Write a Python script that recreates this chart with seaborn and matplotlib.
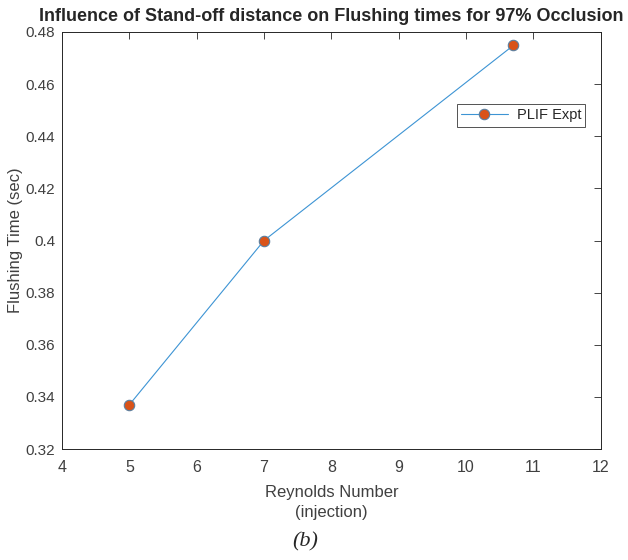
import matplotlib
matplotlib.use('Agg')
import matplotlib.pyplot as plt
import seaborn as sns
import pandas as pd

# Dados
reynolds = [5, 7, 10.7]
flushing = [0.337, 0.400, 0.4748]
xticks = [4, 5, 6, 7, 8, 9, 10, 11, 12]
yticks = [0.32, 0.34, 0.36, 0.38, 0.40, 0.42, 0.44, 0.46, 0.48]
ytick_labels = ['0.32', '0.34', '0.36', '0.38', '0.4', '0.42', '0.44', '0.46', '0.48']

df = pd.DataFrame({'Reynolds': reynolds, 'Flushing': flushing})

sns.set_style('white')
plt.rcParams['font.family'] = ['Liberation Sans', 'DejaVu Sans']

fig = plt.figure(figsize=(6.28, 5.6), dpi=100)
ax = fig.add_axes([0.0987, 0.198, 0.858, 0.745])

# Linha com marcadores (estilo MATLAB)
sns.lineplot(data=df, x='Reynolds', y='Flushing', ax=ax, color='#3d94d4',
             linewidth=0.8, marker='o', markersize=7.5, markerfacecolor='#D95319',
             markeredgecolor='#5a7fa0', markeredgewidth=0.8, label='PLIF Expt')

ax.set_xlim(4, 12)
ax.set_ylim(0.32, 0.48)
ax.set_xticks(xticks)
ax.set_yticks(yticks)
ax.set_yticklabels(ytick_labels)
ax.tick_params(direction='in', length=5, width=0.6, colors='#262626',
               labelcolor='#404040', labelsize=11, top=True, right=True, pad=5)
ax.tick_params(axis='x', pad=8, labelsize=11.5)
for s in ax.spines.values():
    s.set_color('#262626')
    s.set_linewidth(0.7)

ax.set_xlabel('Reynolds Number\n(injection)', fontsize=12, color='#404040',
              labelpad=7, linespacing=1.45)
ax.set_ylabel('Flushing Time (sec)', fontsize=12, color='#404040', labelpad=2)
ax.set_title('Influence of Stand-off distance on Flushing times for 97% Occlusion',
             fontsize=13, fontweight='bold', pad=8)

leg = ax.legend(loc='upper right', bbox_to_anchor=(0.985, 0.845), fontsize=10.5,
                frameon=True, fancybox=False, edgecolor='#262626', handlelength=3.2,
                borderpad=0.3, handletextpad=0.6)
leg.get_frame().set_linewidth(0.7)

fig.text(0.486, 0.032, '(b)', fontsize=16, fontstyle='italic',
         family='Liberation Serif', ha='center', va='center')

plt.savefig('out.png', dpi=100)
